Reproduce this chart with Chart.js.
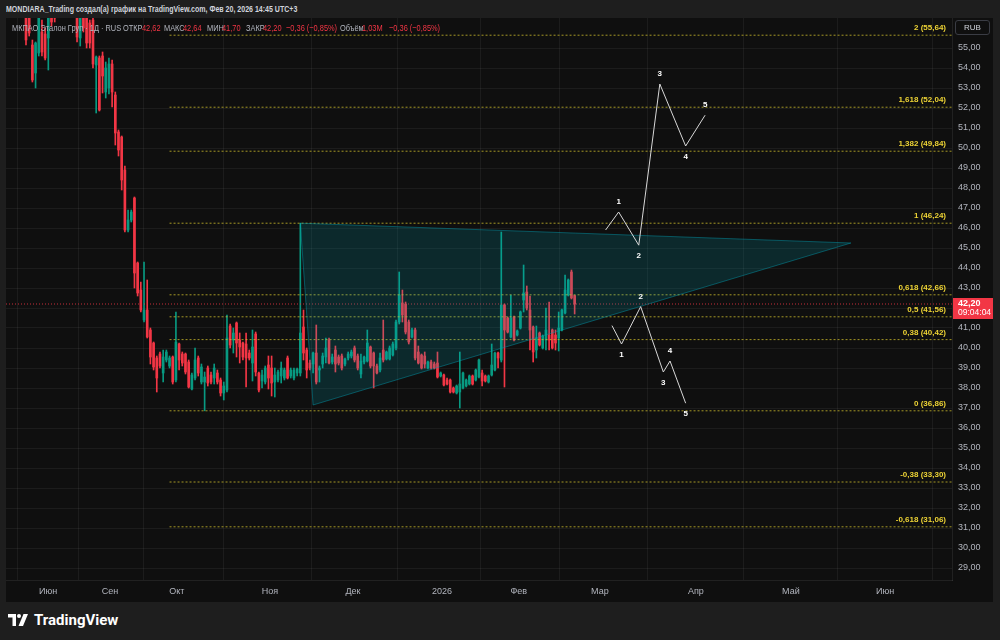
<!DOCTYPE html>
<html>
<head>
<meta charset="utf-8">
<script src="https://cdn.jsdelivr.net/npm/chart.js@4.4.1/dist/chart.umd.min.js"></script>
<style>
  body { margin:0; width:1000px; height:640px; overflow:hidden; background:#1e1e1e; position:relative;
         font-family:"Liberation Sans", Arial, sans-serif; }
  #title { position:absolute; left:6px; top:3px; font-size:9.5px; font-weight:bold; color:#d1d4dc; white-space:nowrap;
           transform:scaleX(0.74); transform-origin:left top; }
  #pane { position:absolute; left:6px; top:18px; width:987px; height:584px; background:#0f0f0f; }
  #legend { position:absolute; left:12px; top:22px; font-size:9.5px; color:#b2b5be; }
  #legend span { position:absolute; top:0; white-space:nowrap; transform:scaleX(0.78); transform-origin:left top; }
  #legend .v { color:#f23645; }
  #rub { position:absolute; left:955px; top:20px; width:35px; height:15px; border:1px solid #3a3c44; border-radius:3px;
         box-sizing:border-box; color:#d1d4dc; font-size:8px; line-height:13px; text-align:center; }
  #logo { position:absolute; left:8px; top:611px; height:18px; display:flex; align-items:center; color:#ffffff;
          font-family:Roboto, "Liberation Sans", sans-serif; font-size:15px; font-weight:bold; }
  #logo svg { margin-right:4px; }
</style>
</head>
<body>
<div id="title">MONDIARA_Trading создал(а) график на TradingView.com, Фев 20, 2026 14:45 UTC+3</div>
<div id="pane"><canvas id="chart" width="987" height="584"></canvas></div>
<div id="legend">
  <span style="left:0">МКПАО Эталон Груп · 1Д · RUS</span>
  <span style="left:111px">ОТКР</span><span class="v" style="left:130px">42,62</span>
  <span style="left:152px">МАКС</span><span class="v" style="left:171px">42,64</span>
  <span style="left:195px">МИН</span><span class="v" style="left:210px">41,70</span>
  <span style="left:234px">ЗАКР</span><span class="v" style="left:251px">42,20</span>
  <span class="v" style="left:274px">−0,36 (−0,85%)</span>
  <span style="left:328px">Объём</span><span class="v" style="left:350px">1,03M</span>
  <span class="v" style="left:377px">−0,36 (−0,85%)</span>
</div>
<div id="rub">RUB</div>
<div id="logo">
  <svg width="22" height="12" viewBox="0 0 22 12"><path d="M0 0h8v12H4.5V3.5H0z" fill="#fff"/><circle cx="11" cy="2" r="2" fill="#fff"/><path d="M15.5 0h4.5l-5 12h-4.5z" fill="#fff"/></svg>
  TradingView
</div>
<script>
// дневные свечи (индекс бара = порядковый торговый день)
const open = [
  57.2,56.9,55.15,53.75,54.75,55.8,55.7,55.5,57.2,57.0, 57.4,57.9,57.6,58.0,57.4,57.1,
  57.2,55.5,57.0,56.8,56.25,56.4,54.15,54.5,54.6,52.8,53.0,54.2,52.65,50.8,
  50.55,48.9,45.9,46.4,47.5,44.25,42.9,41.4,41.9,40.9,
  40.25,39.5,39.7,38.75,39.4,39.1,39.55,38.4,40.2,39.7,
  39.7,39.3,37.95,38.5,39.5,38.3,38.3,39.0,38.65,38.5,
  38.75,38.4,37.75,37.9,41.1,40.4,41.25,40.4,40.25,40.2,
  39.75,39.25,40.7,38.75,38.35,38.3,39.15,39.0,38.3,38.4,
  38.6,38.5,39.5,38.6,38.5,38.75,38.75,41.05,39.9,39.25,
  39.2,39.75,38.9,39.2,39.55,40.4,39.3,39.9,39.55,39.6,
  39.2,39.5,39.6,40.0,39.6,38.7,39.3,39.35,40.05,39.75,
  39.1,38.9,39.9,39.45,39.45,39.65,40.0,41.3,42.25,42.2,
  41.3,40.55,40.9,39.8,39.65,39.6,39.0,39.3,39.2,39.25,
  38.6,38.65,38.4,38.4,38.0,37.75,37.8,38.0,38.1,38.2,
  38.6,38.4,38.55,38.75,38.6,38.3,38.65,38.9,39.75,39.4,
  42.15,41.5,40.55,41.55,40.65,41.0,42.4,42.8,41.9,41.05,
  39.9,40.75,40.0,40.4,40.65,40.9,40.65,40.5,40.9,41.75,
  42.65,43.8,42.62
];
const high = [
  57.8,57.5,55.4,55.3,57.0,56.4,56.0,57.0,57.5,57.3, 58.1,58.6,58.3,58.5,57.9,57.7,
  57.6,57.3,57.4,57.2,56.4,56.9,54.6,54.6,54.8,54.3,54.5,54.4,52.8,50.9,
  50.6,49.1,46.9,46.9,47.55,44.3,43.3,44.3,43.4,41.0,
  40.3,39.6,39.8,39.9,39.9,39.6,39.6,41.8,40.25,39.8,
  39.75,39.4,38.75,40.0,39.6,39.2,38.8,39.1,38.8,39.2,
  38.9,38.5,38.3,41.65,41.2,41.0,41.3,40.75,40.3,40.75,
  39.9,40.9,40.8,38.8,38.9,39.1,39.6,39.6,39.0,38.9,
  39.3,39.0,39.6,39.0,39.0,39.0,46.24,41.9,40.0,39.4,
  39.8,41.15,39.1,39.75,40.5,40.5,39.7,40.1,39.65,39.7,
  39.5,39.8,39.9,40.1,39.7,39.7,39.6,40.9,40.1,39.8,
  39.2,39.75,41.4,39.85,40.1,40.3,41.4,43.8,42.9,42.3,
  41.4,41.0,41.0,40.1,39.7,39.8,39.35,39.4,39.3,39.8,
  38.8,38.7,38.5,38.45,38.05,38.15,39.8,38.8,38.45,38.65,
  38.65,38.95,39.45,38.9,38.65,38.65,40.2,39.8,39.8,45.8,
  42.2,41.55,42.65,41.6,40.9,41.85,44.15,43.1,42.6,41.1,
  41.1,40.8,40.65,42.0,42.3,40.95,40.9,41.8,41.95,43.65,
  43.45,43.9,42.64
];
const low = [
  55.15,55.6,53.3,53.0,54.6,54.6,54.4,53.9,56.1,56.3, 56.9,57.3,57.1,57.2,56.8,56.7,
  55.3,55.1,55.8,55.0,55.0,54.0,51.75,51.85,52.75,52.5,52.7,52.05,50.15,49.6,
  47.9,45.8,45.8,46.3,43.0,42.6,41.8,41.3,40.5,39.2,
  38.9,37.8,39.0,38.3,39.3,39.0,38.2,38.3,38.9,39.1,
  38.7,38.0,37.9,38.4,38.6,38.2,36.86,38.1,38.2,38.2,
  38.2,37.6,37.4,37.8,40.0,39.75,39.55,39.25,39.4,38.05,
  39.4,38.35,38.6,37.8,38.0,38.2,37.95,37.6,37.55,38.3,
  38.25,38.4,38.45,38.5,38.4,38.6,38.6,39.4,38.5,38.9,
  38.75,38.2,38.3,39.0,39.25,39.2,39.2,38.8,39.15,38.9,
  39.1,39.4,39.5,39.3,38.9,38.5,39.2,39.3,39.0,38.0,
  38.7,38.8,39.3,39.4,39.4,39.6,39.9,41.2,41.3,40.7,
  40.2,40.5,39.4,39.2,38.95,39.0,38.95,38.95,38.95,38.5,
  38.55,38.1,38.15,37.75,37.75,37.7,37.0,37.95,38.05,38.15,
  38.15,38.35,38.5,38.1,38.3,38.25,38.6,38.85,39.0,39.3,
  38.05,40.75,40.5,40.35,40.6,40.95,41.8,41.9,39.9,39.3,
  39.5,40.1,39.95,39.9,39.9,39.95,39.9,39.85,40.85,41.7,
  42.6,42.45,41.70
];
const close = [
  55.4,55.75,53.4,55.25,56.6,54.8,54.5,56.6,56.3,56.5, 57.9,57.6,58.0,57.4,57.1,57.3,
  55.55,57.0,56.0,55.25,55.25,54.2,54.55,51.9,53.6,54.0,54.2,52.8,50.75,49.9,
  48.4,45.9,46.4,46.8,43.75,42.75,41.9,41.9,40.55,39.55,
  39.05,38.5,39.1,39.55,39.8,39.5,38.3,40.3,39.4,39.25,
  38.8,38.05,38.65,39.4,38.75,39.05,38.55,38.25,38.3,39.0,
  38.3,37.75,38.1,40.5,40.15,40.75,40.25,40.05,39.55,39.5,
  39.5,40.05,38.8,37.9,38.65,39.0,38.5,38.25,38.65,38.8,
  39.0,38.9,38.5,38.9,38.9,38.95,40.75,39.75,38.9,39.0,
  39.75,38.3,39.0,39.6,40.0,39.25,39.55,39.2,39.25,39.0,
  39.45,39.7,39.8,39.4,39.0,39.35,39.55,40.25,39.1,39.1,
  38.75,39.5,39.4,39.8,40.0,40.2,41.3,42.65,41.65,40.8,
  40.3,40.9,39.5,39.25,39.0,39.2,39.3,39.0,39.0,38.55,
  38.75,38.15,38.2,37.8,37.8,38.1,38.2,38.75,38.4,38.6,
  38.2,38.9,39.4,38.35,38.35,38.6,39.15,39.75,39.5,42.15,
  40.9,40.8,41.5,40.4,40.85,41.8,42.75,42.0,40.9,39.8,
  40.5,40.15,40.6,40.9,40.4,40.0,40.25,41.0,41.9,42.9,
  43.4,42.5,42.20
];
const lastPrice = 42.20;

// шкала времени: позиции подписей (в барах) и подписи
const timeTickPos  = [6.9, 26.3, 47.3, 76.5, 102.5, 130.4, 154.5, 179.9, 210, 239.8, 269.3];
const timeTickText = ['Июн', 'Сен', 'Окт', 'Ноя', 'Дек', '2026', 'Фев', 'Мар', 'Апр', 'Май', 'Июн'];
const priceTicks = [29,30,31,32,33,34,35,36,37,38,39,40,41,42,43,44,45,46,47,48,49,50,51,52,53,54,55];

// коррекция Фибоначчи
const fibLevels = [2, 1.618, 1.382, 1, 0.618, 0.5, 0.38, 0, -0.38, -0.618];
const fibPrices = [55.64, 52.04, 49.84, 46.24, 42.66, 41.56, 40.42, 36.86, 33.30, 31.06];
const fibStartBar = 45;

// треугольник
const triBars   = [86, 90, 258.6, 86];
const triPrices = [46.24, 37.15, 45.25, 46.24];

// волны
const waveUpBars   = [181.7, 185.8, 192.1, 198.7, 206.8, 212.9];
const waveUpPrices = [45.9, 46.8, 45.14, 53.2, 50.1, 51.64];
const waveDnBars   = [183.7, 186.7, 192.7, 199.8, 201.9, 206.8];
const waveDnPrices = [41.12, 40.2, 42.07, 38.8, 39.35, 37.24];
const waveLabels   = ['', '1', '2', '3', '4', '5'];

const xMin = -6.27, xMax = 290.3;
const upColor = '#089981', downColor = '#f23645';
const candleColor = close.map((c, i) => c >= open[i] ? upColor : downColor);
const bars = close.map((c, i) => i);
const fmt = v => String(v).replace('.', ',');
const fmt2 = v => v.toFixed(2).replace('.', ',');

const datasets = [];
datasets.push({
  type: 'bar', data: bars.map(i => ({x: i, y: [low[i], high[i]]})),
  backgroundColor: candleColor, barThickness: 1, grouped: false, order: 4
});
datasets.push({
  type: 'bar', data: bars.map(i => ({x: i, y: [Math.min(open[i], close[i]), Math.max(open[i], close[i])]})),
  backgroundColor: candleColor, barThickness: 2, minBarLength: 1, grouped: false, order: 3
});
fibPrices.forEach(p => {
  datasets.push({
    type: 'line', data: [{x: fibStartBar, y: p}, {x: xMax, y: p}],
    borderColor: 'rgba(214,196,46,0.75)', borderWidth: 1, borderDash: [2, 2], pointRadius: 0, fill: false, order: 2
  });
});
datasets.push({
  type: 'line', data: [{x: xMin, y: lastPrice}, {x: xMax, y: lastPrice}],
  borderColor: 'rgba(242,54,69,0.8)', borderWidth: 1, borderDash: [1, 2], pointRadius: 0, fill: false, order: 2
});
datasets.push({
  type: 'line', data: triBars.map((b, i) => ({x: b, y: triPrices[i]})),
  borderColor: 'rgba(0,160,180,0.45)', backgroundColor: 'rgba(0,180,200,0.16)', borderWidth: 1,
  pointRadius: 0, fill: 'shape', tension: 0, order: 1
});
[[waveUpBars, waveUpPrices], [waveDnBars, waveDnPrices]].forEach(([bx, py]) => {
  datasets.push({
    type: 'line', data: bx.map((b, i) => ({x: b, y: py[i]})),
    borderColor: '#d8d8d8', borderWidth: 1, pointRadius: 0, fill: false, tension: 0, order: 0
  });
});

// подписи уровней, волн и метка цены
const overlay = {
  id: 'overlay',
  afterDatasetsDraw(chart) {
    const {ctx, chartArea, scales: {x, y}} = chart;
    ctx.save();
    ctx.font = 'bold 8px "Liberation Sans", Arial, sans-serif';
    ctx.fillStyle = '#edd335';
    ctx.textAlign = 'right';
    ctx.textBaseline = 'middle';
    fibLevels.forEach((lv, i) => {
      ctx.fillText(fmt(lv) + ' (' + fmt2(fibPrices[i]) + ')', chartArea.right - 6, y.getPixelForValue(fibPrices[i]) - 7);
    });
    ctx.fillStyle = '#ffffff';
    ctx.textAlign = 'center';
    [[waveUpBars, waveUpPrices], [waveDnBars, waveDnPrices]].forEach(([bx, py]) => {
      bx.forEach((b, i) => {
        if (!waveLabels[i]) return;
        const prev = py[i - 1], next = py[i + 1];
        const peak = next === undefined ? py[i] > prev : py[i] > next;
        const px = x.getPixelForValue(b), pyPix = y.getPixelForValue(py[i]);
        ctx.fillText(waveLabels[i], px, pyPix + (peak ? -10 : 11));
      });
    });
    ctx.restore();
  },
  afterDraw(chart) {
    const {ctx, chartArea, scales: {y}} = chart;
    const py = y.getPixelForValue(lastPrice);
    ctx.save();
    ctx.fillStyle = '#f23645';
    ctx.fillRect(chartArea.right + 1, py - 6, chart.width - chartArea.right - 1, 21);
    ctx.fillStyle = '#ffffff';
    ctx.textAlign = 'left';
    ctx.textBaseline = 'middle';
    ctx.font = 'bold 9px "Liberation Sans", Arial, sans-serif';
    ctx.fillText(fmt2(lastPrice), chartArea.right + 6, py);
    ctx.font = '8.5px "Liberation Sans", Arial, sans-serif';
    ctx.fillText('09:04:04', chartArea.right + 6, py + 9);
    ctx.restore();
  }
};

new Chart(document.getElementById('chart'), {
  type: 'bar',
  data: {datasets},
  options: {
    responsive: false,
    animation: false,
    devicePixelRatio: 1,
    layout: {padding: 0},
    plugins: {legend: {display: false}, tooltip: {enabled: false}},
    scales: {
      x: {
        type: 'linear', min: xMin, max: xMax, offset: false,
        afterBuildTicks: s => { s.ticks = timeTickPos.map(v => ({value: v})); },
        afterFit: s => { s.height = 22; s.paddingLeft = 0; s.paddingRight = 0; },
        ticks: {autoSkip: false, maxRotation: 0, padding: 6, color: '#b2b5be',
                font: {size: 9, family: '"Liberation Sans", Arial, sans-serif'},
                callback: (v, i) => timeTickText[i]},
        grid: {color: 'rgba(255,255,255,0.055)', drawTicks: false},
        border: {color: 'rgba(255,255,255,0.08)'}
      },
      y: {
        type: 'linear', position: 'right', min: 28.4, max: 56.5,
        afterBuildTicks: s => { s.ticks = priceTicks.map(v => ({value: v})); },
        afterFit: s => { s.width = 41; s.paddingTop = 0; s.paddingBottom = 0; },
        ticks: {padding: 6, color: '#b2b5be', font: {size: 9, family: '"Liberation Sans", Arial, sans-serif'},
                callback: v => fmt2(v)},
        grid: {color: 'rgba(255,255,255,0.055)', drawTicks: false},
        border: {color: 'rgba(255,255,255,0.08)'}
      }
    }
  },
  plugins: [overlay]
});
</script>
</body>
</html>
